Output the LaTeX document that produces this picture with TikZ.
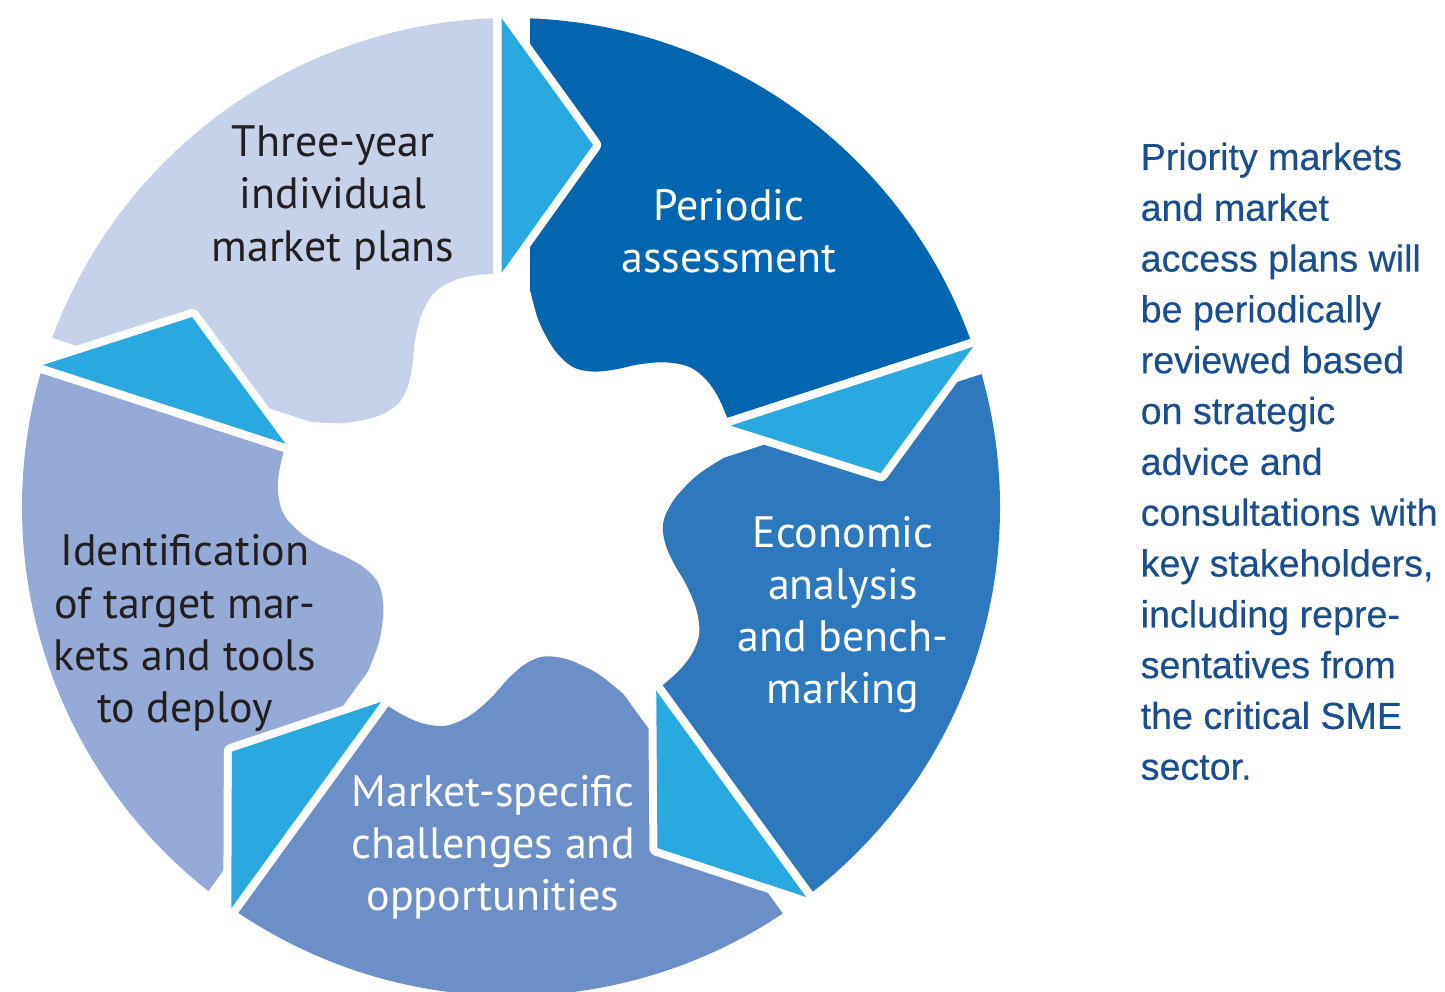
\documentclass[tikz,border=0pt]{standalone}
\usepackage{fontspec}
\newfontfamily\labfont{PT Sans}
\newfontfamily\sidefont[FakeBold=0.35]{Liberation Sans}
\definecolor{cPeriodic}{HTML}{0265AF}
\definecolor{cEconomic}{HTML}{2E78BD}
\definecolor{cMarket}{HTML}{6D8FC8}
\definecolor{cIdent}{HTML}{95AAD7}
\definecolor{cThree}{HTML}{C6D1EA}
\definecolor{cArrow}{HTML}{29A9E0}
\definecolor{cSide}{HTML}{1C4E8E}
\definecolor{cDark}{HTML}{231F20}
\begin{document}
\begin{tikzpicture}[x=0.01cm,y=0.01cm,
  seglabel/.style={align=center, inner sep=0, font=\labfont\fontsize{12.5}{14.8}\selectfont},
  darklabel/.style={seglabel, text=cDark},
  lightlabel/.style={seglabel, text=white},
  sidetext/.style={align=left, inner sep=0, anchor=north west, text=cSide, font=\sidefont\fontsize{10.7}{14.45}\selectfont},
  arrowgap/.style={fill=white, draw=white, line width=0.16cm, line join=round},
  arrowfill/.style={fill=cArrow}]
\useasboundingbox (-511,-485) rectangle (934,507);
% ring segments
\foreach \k/\col in {0/cPeriodic,1/cEconomic,2/cMarket,3/cIdent,4/cThree}{
  \begin{scope}[rotate=-72*\k]
    \fill[\col] (19,217.2) -- (19,488.63) arc[start angle=87.77, end angle=20.11, radius=489]
      -- (216.3,89.2) -- plot[smooth, tension=0.6] coordinates {(22.4:234) (28:234.5) (33:233) (38:227) (43:212) (48:192) (53:172) (59:158) (66:153) (73:160) (78:173) (82:191) (85:218)} -- cycle;
  \end{scope}
}
% arrows between segments
\foreach \k in {0,1,2,3,4}{
  \begin{scope}[rotate=-72*\k]
    \path[arrowgap] (-9.5,488.9) -- (82,362) -- (-9.5,234) -- cycle;
    \path[arrowfill] (-9.5,488.9) -- (82,362) -- (-9.5,234) -- cycle;
  \end{scope}
}
% labels
\node[darklabel] (three) at (-178,309) {Three-year\\individual\\market plans};
\node[lightlabel] (periodic) at (218,276) {Periodic\\assessment};
\node[lightlabel] (economic) at (332,-108) {Economic\\analysis\\and bench-\\marking};
\node[lightlabel] (market) at (-18,-340) {Market-specific\\challenges and\\opportunities};
\node[darklabel] (ident) at (-326,-126) {Identification\\of target mar-\\kets and tools\\to deploy};
\node[sidetext] (side) at (629,365) {Priority markets\\and market\\access plans will\\be periodically\\reviewed based\\on strategic\\advice and\\consultations with\\key stakeholders,\\including repre-\\sentatives from\\the critical SME\\sector.};
\end{tikzpicture}
\end{document}
